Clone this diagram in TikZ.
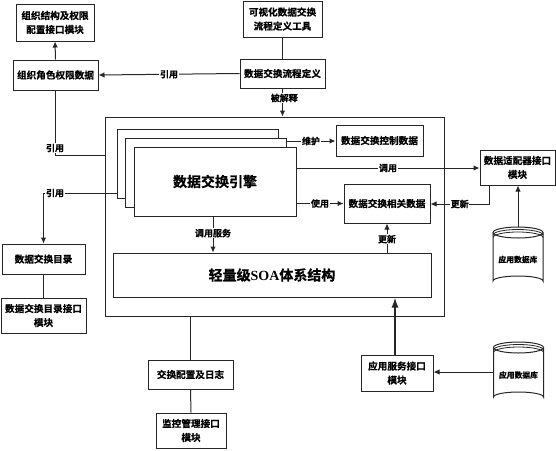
\documentclass[tikz,border=0pt]{standalone}
\usepackage{fontspec}
\setmainfont{Liberation Serif}
\newfontfamily\cjk{Noto Sans CJK SC}[BoldFont={Noto Sans CJK SC Bold},BoldFeatures={FakeBold=0.6}]
\usetikzlibrary{arrows.meta,calc}
\tikzset{
  ln/.style={line width=1pt,draw=black!85},
  arr/.style={ln,-{Latex[length=6pt,width=5.5pt]}},
  bigarr/.style={line width=1.6pt,draw=black!85,-{Latex[length=10pt,width=7pt]}},
  boxn/.style={ln,fill=white,align=center,inner sep=0pt,font=\cjk\bfseries\fontsize{9.6}{14}\selectfont},
  lab/.style={fill=white,inner sep=0.6pt,font=\cjk\bfseries\fontsize{9}{10}\selectfont},
  dbt/.style={inner sep=0pt,font=\cjk\bfseries\fontsize{7.8}{9}\selectfont},
}
\newcommand{\dbshape}[5]{% name cx top bottom label
  \draw[ln,fill=white] (#2-25,#3+5.5) -- (#2-25,#4-5) arc[start angle=180,end angle=360,x radius=25,y radius=5] -- (#2+25,#3+5.5);
  \draw[ln,fill=white] (#2,#3+5.5) ellipse[x radius=25,y radius=5.5];
  \draw[line width=0.8pt,draw=black!85] (#2-25,#3+8) arc[start angle=180,end angle=360,x radius=25,y radius=5.5];
  \draw[line width=0.8pt,draw=black!85] (#2-25,#3+10.5) arc[start angle=180,end angle=360,x radius=25,y radius=5.5];
  \node[dbt,minimum width=50pt,minimum height={#4pt-#3pt}] (#1) at (#2,{(#3+#4)/2+3}) {#5};}
\begin{document}
\begin{tikzpicture}[x=1pt,y=-1pt]
\useasboundingbox (0,0) rectangle (556,450);
% outer frame
\node[ln,minimum width=339pt,minimum height=199pt,inner sep=0pt] (outer) at (274.5,216.5) {};
% engine stack
\node[ln,fill=white,minimum width=161pt,minimum height=69pt,inner sep=0pt] (s1) at (197.5,163.5) {};
\node[ln,fill=white,minimum width=161pt,minimum height=69pt,inner sep=0pt] (s2) at (205.5,172.5) {};
\node[ln,fill=white,minimum width=162pt,minimum height=69pt,inner sep=0pt,font=\cjk\bfseries\fontsize{14}{16}\selectfont] (engine) at (215,181.5) {数据交换引擎};
% boxes
\node[boxn,minimum width=78pt,minimum height=37pt] (a) at (55,22.5) {组织结构及权限\\配置接口模块};
\node[boxn,minimum width=85pt,minimum height=30pt] (b) at (55.5,75) {组织角色权限数据};
\node[boxn,minimum width=79pt,minimum height=36pt] (c) at (282.5,19) {可视化数据交换\\流程定义工具};
\node[boxn,minimum width=85pt,minimum height=29pt] (d) at (282.5,73.5) {数据交换流程定义};
\node[boxn,minimum width=87pt,minimum height=31pt] (ctrl) at (379.5,140.5) {数据交换控制数据};
\node[boxn,minimum width=86pt,minimum height=39pt] (rel) at (387,203.5) {数据交换相关数据};
\node[boxn,minimum width=75pt,minimum height=35pt] (adp) at (517.5,167.5) {数据适配器接口\\模块};
\node[boxn,minimum width=318pt,minimum height=44pt,font=\bfseries\fontsize{14}{16}\selectfont] (soa) at (272,275) {{\cjk 轻量级}SOA{\cjk 体系结构}};
\node[boxn,minimum width=83pt,minimum height=30pt] (dir) at (43.5,259) {数据交换目录};
\node[boxn,minimum width=85pt,minimum height=35pt] (dif) at (43.5,315.5) {数据交换目录接口\\模块};
\node[boxn,minimum width=85pt,minimum height=29pt] (cfg) at (190.5,374.5) {交换配置及日志};
\node[boxn,minimum width=70pt,minimum height=35pt] (mon) at (191,430.5) {监控管理接口\\模块};
\node[boxn,minimum width=72pt,minimum height=36pt] (app) at (397,373) {应用服务接口\\模块};
\dbshape{dba}{518}{227}{286}{应用数据库}
\dbshape{dbb}{518.5}{342}{402}{应用数据库}
% named points on the database outlines
\coordinate (dbatop) at (518,227);
\coordinate (dbbleft) at (493.5,372);
% connectors
\draw[arr] (b.north) -- (a.south);
\draw[arr] (d.west) -- node[lab] (l1) {引用} (b.east);
\draw[ln] (c.south) -- (d.north);
\draw[arr] (d.south) -- (outer.north -| d.south);
\node[lab,anchor=west] (l2) at (270,98) {被解释};
\coordinate (j1) at (b.south |- 0,155);
\draw[ln] (b.south) -- (j1) -- (j1 -| outer.west);
\node[lab] (l3) at (55,148) {引用};
\coordinate (j2) at (dir.north |- 0,193);
\draw[arr] (j2 -| s1.west) -- (j2) -- (dir.north);
\node[lab] (l4) at (55,193) {引用};
\coordinate (j3) at (s2.east |- 0,141);
\draw[arr] (j3) -- node[lab] (l5) {维护} (j3 -| ctrl.west);
\draw[arr] (engine.east |- 0,168) -- node[lab,pos=.5] (l6) {调用} (adp.west |- 0,168);
\draw[arr] (engine.east |- rel.west) -- node[lab] (l7) {使用} (rel.west);
\coordinate (j5) at (489,204);
\draw[arr] (j5 |- adp.south) -- (j5) -- node[lab] (l8) {更新} (rel.east |- j5);
\draw[arr] (dbatop) -- (dbatop |- adp.south);
\coordinate (j6) at (213,216);
\draw[arr] (j6) -- node[lab,pos=.47] (l9) {调用服务} (j6 |- soa.north);
\coordinate (j7) at (387,253);
\draw[arr] (j7) -- node[lab,pos=.47] (l10) {更新} (j7 |- rel.south);
\draw[bigarr] (395,0 |- app.north) -- (395,0 |- soa.south);
\draw[arr] (dbbleft) -- (dbbleft -| app.east);
\draw[ln] (cfg.north) -- (cfg.north |- outer.south);
\draw[ln] (cfg.south) -- (mon.north);
\draw[ln] (dir.south) -- (dif.north);
\end{tikzpicture}
\end{document}
